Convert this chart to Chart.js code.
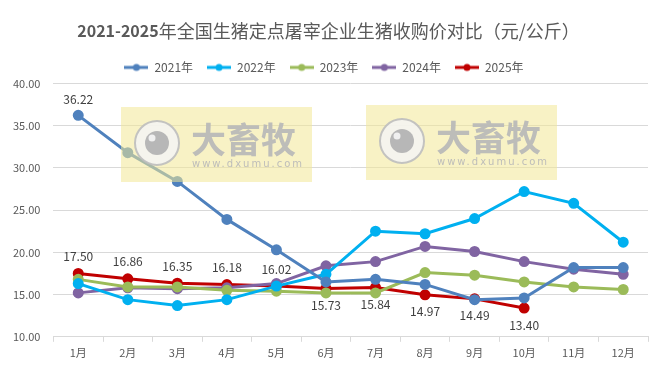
<!DOCTYPE html>
<html>
<head>
<meta charset="utf-8">
<script src="https://cdn.jsdelivr.net/npm/chart.js@4.4.1/dist/chart.umd.min.js"></script>
<style>
  html, body { margin: 0; padding: 0; background: #fff; }
  #wrap { width: 657px; height: 365px; }
</style>
</head>
<body>
<div id="wrap"><canvas id="c"></canvas></div>
<script>
// 数据
const months = ['1月', '2月', '3月', '4月', '5月', '6月', '7月', '8月', '9月', '10月', '11月', '12月'];
const y2021 = [36.22, 31.8, 28.4, 23.9, 20.3, 16.5, 16.8, 16.2, 14.4, 14.6, 18.2, 18.2];
const y2022 = [16.3, 14.4, 13.7, 14.4, 16.0, 17.4, 22.5, 22.2, 24.0, 27.2, 25.8, 21.2];
const y2023 = [16.8, 15.9, 15.9, 15.5, 15.4, 15.2, 15.2, 17.6, 17.3, 16.5, 15.9, 15.6];
const y2024 = [15.2, 15.8, 15.7, 15.8, 16.3, 18.4, 18.9, 20.7, 20.1, 18.9, 18.0, 17.4];
const y2025 = [17.50, 16.86, 16.35, 16.18, 16.02, 15.73, 15.84, 14.97, 14.49, 13.40];
const yTicks = [10, 15, 20, 25, 30, 35, 40];

const FONT = '"Noto Sans CJK SC", "Noto Sans", sans-serif';
const TITLE_A = '2021-2025';
const TITLE_B = '年全国生猪定点屠宰企业生猪收购价对比（元/公斤）';

// 图例里的 线+圆点 图标
function legendIcon(color) {
  const cv = document.createElement('canvas');
  cv.width = 24; cv.height = 10;
  const g = cv.getContext('2d');
  g.strokeStyle = color;
  g.lineWidth = 3;
  g.beginPath(); g.moveTo(0, 5); g.lineTo(24, 5); g.stroke();
  g.fillStyle = color;
  g.beginPath(); g.arc(12, 5, 3.5, 0, Math.PI * 2); g.fill();
  return cv;
}

function serie(label, data, color) {
  return {
    label: label,
    data: data,
    borderColor: color,
    backgroundColor: color,
    borderWidth: 3,
    pointRadius: 4,
    pointHoverRadius: 4,
    pointStyle: 'circle',
    tension: 0,
    legendIcon: legendIcon(color)
  };
}

// 标题：数字粗体，中文常规
const titleText = {
  id: 'titleText',
  afterDraw(chart) {
    const tb = chart.titleBlock;
    if (!tb) return;
    const ctx = chart.ctx;
    ctx.save();
    const fa = 'bold 16px ' + FONT;
    const fb = '18px ' + FONT;
    ctx.font = fa; const wa = ctx.measureText(TITLE_A).width;
    ctx.font = fb; const wb = ctx.measureText(TITLE_B).width;
    const x0 = (chart.width - wa - wb) / 2;
    const y = tb.top + tb.height / 2 + 4;
    ctx.fillStyle = '#595959';
    ctx.textBaseline = 'middle';
    ctx.textAlign = 'left';
    ctx.font = fa; ctx.fillText(TITLE_A, x0, y);
    ctx.font = fb; ctx.fillText(TITLE_B, x0 + wa, y);
    ctx.restore();
  }
};

// 水印（盖在线上，半透明）
const watermark = {
  id: 'watermark',
  afterDatasetsDraw(chart) {
    const ctx = chart.ctx;
    const boxes = [[121, 107, 191, 75], [366, 105, 191, 75]];
    ctx.save();
    boxes.forEach(b => {
      const [x, y, w, h] = b;
      ctx.fillStyle = 'rgba(242, 232, 150, 0.55)';
      ctx.fillRect(x, y, w, h);
      // 圆形标志
      const cx = x + 36, cy = y + 36;
      ctx.fillStyle = 'rgba(245,245,245,0.85)';
      ctx.beginPath(); ctx.arc(cx, cy, 22, 0, Math.PI * 2); ctx.fill();
      ctx.strokeStyle = 'rgba(190,190,190,0.9)';
      ctx.lineWidth = 2;
      ctx.beginPath(); ctx.arc(cx, cy, 22, 0, Math.PI * 2); ctx.stroke();
      ctx.fillStyle = 'rgba(180,180,180,0.95)';
      ctx.beginPath(); ctx.arc(cx, cy, 12, 0, Math.PI * 2); ctx.fill();
      ctx.fillStyle = 'rgba(240,240,240,1)';
      ctx.beginPath(); ctx.arc(cx - 5, cy - 5, 3.5, 0, Math.PI * 2); ctx.fill();
      // 文字
      ctx.fillStyle = 'rgba(185,185,185,0.92)';
      ctx.font = 'bold 35px ' + FONT;
      ctx.textAlign = 'left';
      ctx.textBaseline = 'middle';
      ctx.fillText('大畜牧', x + 70, y + 33);
      ctx.font = '10px "DejaVu Sans", sans-serif';
      ctx.letterSpacing = '2px';
      ctx.fillText('www.dxumu.com', x + 71, y + 57);
      ctx.letterSpacing = '0px';
    });
    ctx.restore();
  }
};

// 数据标签
const valueLabels = {
  id: 'valueLabels',
  afterDatasetsDraw(chart) {
    const ctx = chart.ctx;
    ctx.save();
    ctx.font = '12px ' + FONT;
    ctx.fillStyle = '#404040';
    ctx.textAlign = 'center';
    ctx.textBaseline = 'middle';
    // 2021年 1月
    const m0 = chart.getDatasetMeta(0).data[0];
    ctx.fillText(y2021[0].toFixed(2), m0.x, m0.y - 16);
    // 2025年
    chart.getDatasetMeta(4).data.forEach((p, i) => {
      const dy = i < 5 ? -17 : 17;
      ctx.fillText(y2025[i].toFixed(2), p.x, p.y + dy);
    });
    ctx.restore();
  }
};

new Chart(document.getElementById('c'), {
  type: 'line',
  data: {
    labels: months,
    datasets: [
      serie('2021年', y2021, '#4f81bd'),
      serie('2022年', y2022, '#00b0f0'),
      serie('2023年', y2023, '#9bbb59'),
      serie('2024年', y2024, '#8064a2'),
      serie('2025年', y2025, '#c00000')
    ]
  },
  options: {
    responsive: true,
    maintainAspectRatio: false,
    animation: false,
    layout: { padding: { left: 0, right: 9, top: 6, bottom: 2 } },
    plugins: {
      title: {
        display: true,
        text: TITLE_A + TITLE_B,
        color: 'rgba(0,0,0,0)',
        font: { family: FONT, size: 17 },
        padding: { top: 14, bottom: 7 }
      },
      legend: {
        display: true,
        labels: {
          usePointStyle: true,
          pointStyleWidth: 24,
          boxHeight: 10,
          padding: 14,
          color: '#595959',
          font: { family: FONT, size: 12 },
          generateLabels(chart) {
            return chart.data.datasets.map((ds, i) => ({
              text: ds.label,
              fontColor: '#595959',
              pointStyle: ds.legendIcon,
              datasetIndex: i,
              hidden: false,
              lineWidth: 0
            }));
          }
        }
      },
      tooltip: { enabled: false }
    },
    scales: {
      x: {
        offset: true,
        grid: {
          offset: true,
          drawOnChartArea: false,
          drawTicks: true,
          tickLength: 5,
          color: '#d9d9d9'
        },
        border: { color: '#d9d9d9' },
        ticks: { color: '#595959', font: { family: FONT, size: 11 }, padding: 4 }
      },
      y: {
        min: 10,
        max: 40,
        afterBuildTicks(scale) {
          scale.ticks = yTicks.map(v => ({ value: v }));
        },
        grid: { color: '#d9d9d9', drawTicks: false },
        border: { display: false },
        ticks: {
          color: '#595959',
          font: { family: FONT, size: 11 },
          padding: 13,
          callback: v => Number(v).toFixed(2)
        }
      }
    }
  },
  plugins: [watermark, valueLabels, titleText]
});
</script>
</body>
</html>
